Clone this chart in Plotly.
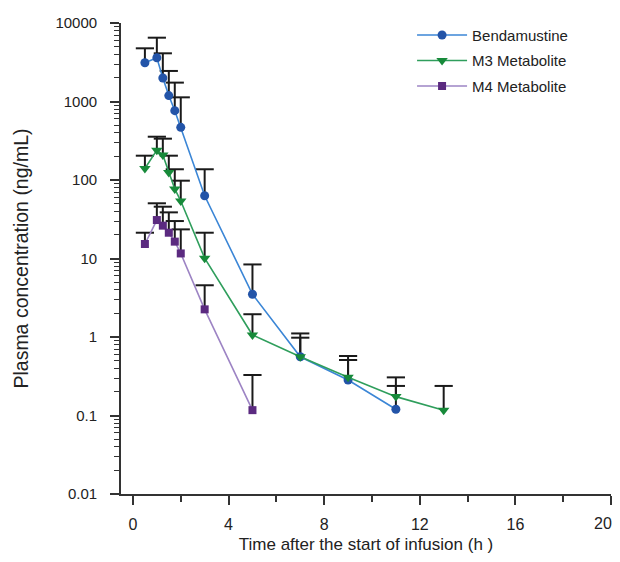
import plotly.graph_objects as go

# ---- data ----
benda_t = [0.5, 1.0, 1.25, 1.5, 1.75, 2.0, 3.0, 5.0, 7.0, 9.0, 11.0]
benda_v = [3120, 3610, 1990, 1190, 764, 469, 63, 3.5, 0.56, 0.283, 0.12]
benda_up = [4760, 6500, 4110, 2450, 1740, 1130, 137, 8.4, 1.11, 0.573, 0.306]

m3_t = [0.5, 1.0, 1.25, 1.5, 1.75, 2.0, 3.0, 5.0, 7.0, 9.0, 11.0, 13.0]
m3_v = [140, 240, 208, 125, 77, 54, 10.1, 1.06, 0.56, 0.307, 0.174, 0.117]
m3_up = [204, 356, 336, 204, 137, 98, 21.3, 1.95, 0.98, 0.509, 0.238, 0.238]

m4_t = [0.5, 1.0, 1.25, 1.5, 1.75, 2.0, 3.0, 5.0]
m4_v = [15.3, 30.9, 26.2, 21.3, 16.4, 11.6, 2.25, 0.117]
m4_up = [21.3, 50.5, 45.7, 38.7, 30.0, 23.5, 4.56, 0.328]

y_tickvals = [0.01, 0.1, 1, 10, 100, 1000, 10000]
y_ticktext = ["0.01", "0.1", "1", "10", "100", "1000", "10000"]
x_tickvals = [0, 4, 8, 12, 16, 20]
x_ticktext = ["0", "4", "8", "12", "16", "20"]

series = [
    ("Bendamustine", benda_t, benda_v, benda_up, "circle", "#2354a8", "#3b86d6", 9),
    ("M3 Metabolite", m3_t, m3_v, m3_up, "triangle-down", "#178a3a", "#2f9e5c", 10),
    ("M4 Metabolite", m4_t, m4_v, m4_up, "square", "#5b2a80", "#9d84c4", 8),
]

FONT = "Liberation Sans, Arial, Helvetica, sans-serif"
fig = go.Figure()

# error bars (upper only): caps as horizontal-line markers at the upper value,
# with a downward error bar to the mean value
for name, t, v, up, sym, mc, lc, ms in series:
    fig.add_trace(go.Scatter(
        x=t, y=up, mode="markers", showlegend=False, hoverinfo="skip",
        marker=dict(symbol="line-ew", size=13, line=dict(width=2, color="#1a1a1a")),
        error_y=dict(type="data", symmetric=False,
                     array=[0] * len(t),
                     arrayminus=[u - y for u, y in zip(up, v)],
                     width=0, thickness=2, color="#1a1a1a"),
    ))

for name, t, v, up, sym, mc, lc, ms in series:
    fig.add_trace(go.Scatter(
        x=t, y=v, mode="lines+markers", name=name, legendgroup=name,
        line=dict(color=lc, width=1.6),
        marker=dict(symbol=sym, size=ms, color=mc, line=dict(width=0)),
    ))

# the last x tick label sits at the right edge; draw it right-anchored so it stays whole
fig.add_annotation(
    x=x_tickvals[-1], y=0, xref="x", yref="paper", yanchor="top", xanchor="right",
    text=x_ticktext[-1], showarrow=False, xshift=3, yshift=-19,
    font=dict(family=FONT, size=16, color="#222"),
)

fig.update_layout(
    width=612, height=546,
    margin=dict(l=113, r=9, t=15, b=60, autoexpand=False),
    paper_bgcolor="white", plot_bgcolor="white",
    font=dict(family=FONT, size=15, color="#222"),
    showlegend=True,
    legend=dict(x=0.594, y=1.009, xanchor="left", yanchor="top",
                bgcolor="rgba(0,0,0,0)", font=dict(size=15, color="#222"),
                traceorder="grouped", tracegroupgap=3, itemwidth=50),
)

fig.update_xaxes(
    range=[-0.5, 20], tickmode="array", tickvals=x_tickvals,
    ticktext=x_ticktext[:-1] + [""],
    ticks="outside", ticklen=9, tickwidth=1.5, tickcolor="#333",
    showline=True, linecolor="#333", linewidth=1.8,
    showgrid=False, zeroline=False, automargin=False,
    tickfont=dict(size=16), ticklabelstandoff=6,
    minor=dict(dtick=2, tick0=0, ticks="outside", ticklen=6, tickwidth=1.5, tickcolor="#333", showgrid=False),
    title=dict(text="Time after the start of infusion (h )", font=dict(size=17), standoff=12),
)

fig.update_yaxes(
    type="log", range=[-2, 4], tickmode="array",
    tickvals=y_tickvals, ticktext=y_ticktext,
    ticks="outside", ticklen=9, tickwidth=1.5, tickcolor="#333",
    showline=True, linecolor="#333", linewidth=1.8,
    showgrid=False, zeroline=False, automargin=False,
    tickfont=dict(size=15), ticklabelstandoff=10,
    minor=dict(dtick="D1", ticks="outside", ticklen=5, tickwidth=1.2, tickcolor="#333", showgrid=False),
    title=dict(text="Plasma concentration (ng/mL)", font=dict(size=19.5), standoff=22),
)

fig.write_html("out.html")
